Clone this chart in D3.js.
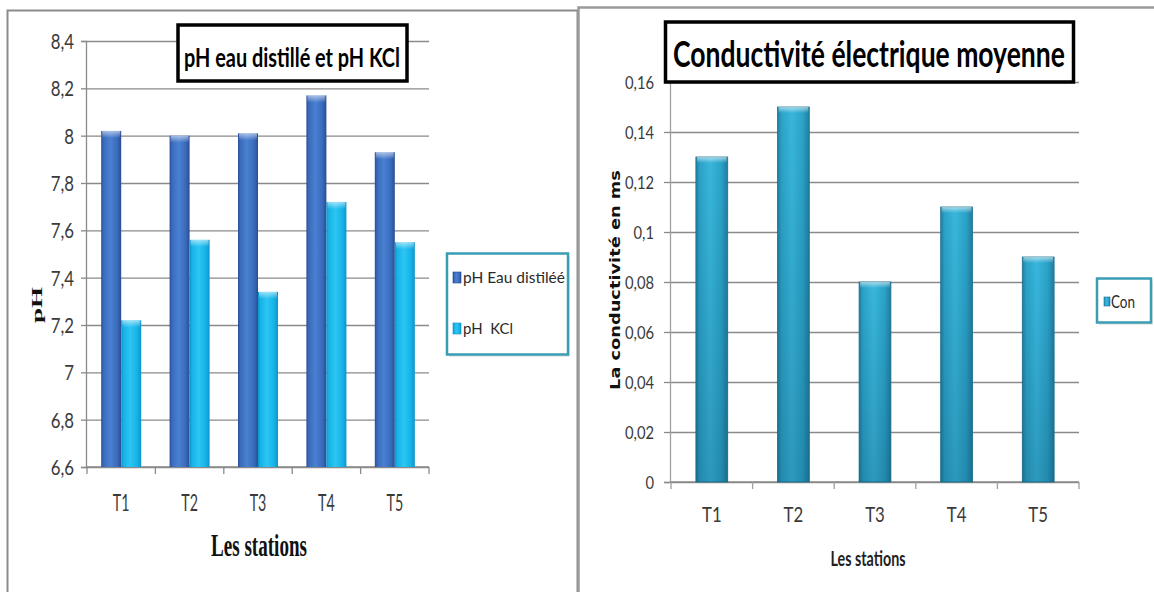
<!DOCTYPE html>
<html>
<head>
<meta charset="utf-8">
<script src="https://cdn.jsdelivr.net/npm/d3@7"></script>
<style>
  html, body { margin: 0; padding: 0; background: #fff; }
  svg { display: block; }
  text { white-space: pre; }
</style>
</head>
<body>
<svg id="chart" width="1154" height="592"></svg>
<script>
// Stations sampled
const stations = ["T1", "T2", "T3", "T4", "T5"];

// pH measured in distilled water and in KCl
const phSeries = ["pH Eau distiléé", "pH  KCl"];
const phEau = [8.02, 8.00, 8.01, 8.17, 7.93];
const phKcl = [7.22, 7.56, 7.34, 7.72, 7.55];
const phTicks = [6.6, 6.8, 7, 7.2, 7.4, 7.6, 7.8, 8, 8.2, 8.4];

// Mean electrical conductivity (mS)
const condSeries = ["Con"];
const conductivite = [0.13, 0.15, 0.08, 0.11, 0.09];
const condTicks = [0, 0.02, 0.04, 0.06, 0.08, 0.1, 0.12, 0.14, 0.16];

const fr = d3.formatLocale({ decimal: ",", thousands: " ", grouping: [3], currency: ["", " €"] });
const fmt = fr.format("~g");

const svg = d3.select("#chart");
const defs = svg.append("defs");

const SANS = "Lato, 'Open Sans', sans-serif";
const SERIF = "'Liberation Serif', 'DejaVu Serif', serif";
const GRID = "#8a8a8a";

// Horizontal cylinder-like shading for the bars
function hGradient(id, edge, mid, light) {
  const g = defs.append("linearGradient").attr("id", id)
    .attr("x1", 0).attr("x2", 1).attr("y1", 0).attr("y2", 0);
  [[0, edge], [0.12, mid], [0.45, light], [0.8, mid], [1, edge]].forEach(([o, c]) =>
    g.append("stop").attr("offset", o).attr("stop-color", c));
}
hGradient("gEau", "#284d94", "#3a6bbb", "#4a80d2");
hGradient("gKcl", "#0b95cc", "#17b2e6", "#2cc6f4");
hGradient("gCon", "#1f7ea0", "#2ba2c8", "#39b7dd");

// Light bevel at the top of each bar
const cap = defs.append("linearGradient").attr("id", "gCap")
  .attr("x1", 0).attr("x2", 0).attr("y1", 0).attr("y2", 1);
cap.append("stop").attr("offset", 0).attr("stop-color", "#ffffff").attr("stop-opacity", 0.55);
cap.append("stop").attr("offset", 1).attr("stop-color", "#ffffff").attr("stop-opacity", 0);

// Darkening towards the base of the conductivity bars
const shade = defs.append("linearGradient").attr("id", "gShade")
  .attr("x1", 0).attr("x2", 0).attr("y1", 0).attr("y2", 1);
shade.append("stop").attr("offset", 0).attr("stop-color", "#003048").attr("stop-opacity", 0);
shade.append("stop").attr("offset", 1).attr("stop-color", "#003048").attr("stop-opacity", 0.22);

// Text placed at (x, y), optionally rotated, scaled horizontally to a given width
function label(parent, { x, y, rotate = 0, width, anchor = "middle", family = SANS,
                         weight = 400, size, fill = "#111", text }) {
  const g = parent.append("g").attr("transform", `translate(${x},${y}) rotate(${rotate})`);
  const t = g.append("text").attr("text-anchor", anchor)
    .attr("font-family", family).attr("font-weight", weight)
    .attr("font-size", size).attr("fill", fill).text(text);
  const w = t.node().getComputedTextLength();
  if (width && w > 0) t.attr("transform", `scale(${width / w},1)`);
  return t;
}
// Narrow each axis label around its own anchor point
function squeeze(sel, k) {
  sel.each(function () {
    const t = d3.select(this);
    const x = +t.attr("x") || 0;
    t.attr("transform", `translate(${x},0) scale(${k},1)`).attr("x", 0);
  });
}

// Panel frames
svg.append("path").attr("d", "M7.5,592V10.5H577.5V592")
  .attr("fill", "none").attr("stroke", "#8c8c8c").attr("stroke-width", 2);
svg.append("path").attr("d", "M578.5,592V7.5H1154")
  .attr("fill", "none").attr("stroke", "#9a9a9a").attr("stroke-width", 2.5);

// ---------------- Left chart: pH ----------------
{
  const x0 = 87, x1 = 429, yTop = 41, yBot = 467;
  const g = svg.append("g");

  const y = d3.scaleLinear().domain([6.6, 8.4]).range([yBot, yTop]);
  const x = d3.scaleBand().domain(stations).range([x0, x1])
    .paddingInner(0.415).paddingOuter(0.2075);
  const xs = d3.scaleBand().domain(phSeries).range([0, x.bandwidth()]);

  // gridlines
  g.append("g").attr("transform", `translate(${x0 - 1},0)`)
    .call(d3.axisLeft(y).tickValues(phTicks).tickSize(-(x1 - x0 + 1)).tickFormat(""))
    .call(s => s.select(".domain").remove())
    .call(s => s.selectAll("line").attr("stroke", GRID).attr("stroke-width", 1.3));

  // y axis with labels
  const ya = g.append("g").attr("transform", `translate(${x0 - 1},0)`)
    .call(d3.axisLeft(y).tickValues(phTicks).tickSize(5).tickPadding(7).tickFormat(fmt));
  ya.select(".domain").attr("stroke", GRID).attr("stroke-width", 1.3);
  ya.selectAll("line").attr("stroke", GRID).attr("stroke-width", 1.3);
  ya.selectAll("text").attr("font-family", SANS).attr("font-size", 21)
    .attr("fill", "#3a3a3a").attr("dy", "0.36em").call(squeeze, 0.8);

  // x axis
  const xa = g.append("g").attr("transform", `translate(0,${yBot})`)
    .call(d3.axisBottom(x).tickSize(0).tickPadding(0));
  xa.select(".domain").remove();
  xa.selectAll("text").attr("font-family", SANS).attr("font-size", 23)
    .attr("fill", "#3a3a3a").attr("dy", null).attr("y", 44).call(squeeze, 0.62);
  g.append("line").attr("x1", x0 - 1).attr("x2", x1).attr("y1", yBot).attr("y2", yBot)
    .attr("stroke", GRID).attr("stroke-width", 1.3);
  g.selectAll(".xtick").data(d3.range(stations.length + 1)).join("line")
    .attr("x1", i => x0 + i * x.step()).attr("x2", i => x0 + i * x.step())
    .attr("y1", yBot).attr("y2", yBot + 7)
    .attr("stroke", GRID).attr("stroke-width", 1.3);

  // bars
  const rows = stations.map((s, i) => ({ s, vals: [phEau[i], phKcl[i]] }));
  const fills = ["url(#gEau)", "url(#gKcl)"];
  const groups = g.selectAll(".grp").data(rows).join("g")
    .attr("transform", d => `translate(${x(d.s)},0)`);
  const bars = groups.selectAll("g.bar").data(d => d.vals.map((v, k) => ({ v, k })))
    .join("g").attr("class", "bar");
  bars.append("rect")
    .attr("x", d => xs(phSeries[d.k])).attr("width", xs.bandwidth())
    .attr("y", d => y(d.v)).attr("height", d => yBot - y(d.v))
    .attr("fill", d => fills[d.k]);
  bars.append("rect")
    .attr("x", d => xs(phSeries[d.k]) + 1).attr("width", xs.bandwidth() - 2)
    .attr("y", d => y(d.v)).attr("height", 7)
    .attr("fill", "url(#gCap)");

  // axis titles
  label(g, { x: 42, y: 305, rotate: -90, width: 36, family: SERIF, weight: 700, size: 14, text: "pH" });
  label(g, { x: 259, y: 556, width: 96, family: SERIF, weight: 700, size: 31, text: "Les stations" });

  // title box
  g.append("rect").attr("x", 178).attr("y", 25).attr("width", 229).attr("height", 56)
    .attr("fill", "#fff").attr("stroke", "#000").attr("stroke-width", 3.5);
  label(g, { x: 292, y: 67, width: 216, weight: 700, size: 26, fill: "#000",
             text: "pH eau distillé et pH KCl" });

  // legend
  const lg = g.append("g");
  lg.append("rect").attr("x", 449).attr("y", 256).attr("width", 121).attr("height", 101)
    .attr("fill", "#d8d8d8").attr("opacity", 0.6);
  lg.append("rect").attr("x", 447).attr("y", 253.5).attr("width", 121).attr("height", 101)
    .attr("fill", "#fff").attr("stroke", "#3a9db3").attr("stroke-width", 2.5);
  const ly = [283, 334];
  const lw = [102, 50];
  phSeries.forEach((name, k) => {
    lg.append("rect").attr("x", 453).attr("y", ly[k] - 11).attr("width", 8).attr("height", 11)
      .attr("fill", fills[k]).attr("stroke", k ? "#0b8fc4" : "#25478a").attr("stroke-width", 0.6);
    label(lg, { x: 463, y: ly[k], width: lw[k], anchor: "start", size: 16, fill: "#2a2a2a", text: name });
  });
}

// ---------------- Right chart: conductivity ----------------
{
  const x0 = 671, x1 = 1079, yTop = 82, yBot = 482;
  const g = svg.append("g");

  const y = d3.scaleLinear().domain([0, 0.16]).range([yBot, yTop]);
  const x = d3.scaleBand().domain(stations).range([x0, x1])
    .paddingInner(0.61).paddingOuter(0.305);

  g.append("g").attr("transform", `translate(${x0 - 1},0)`)
    .call(d3.axisLeft(y).tickValues(condTicks).tickSize(-(x1 - x0 + 1)).tickFormat(""))
    .call(s => s.select(".domain").remove())
    .call(s => s.selectAll("line").attr("stroke", GRID).attr("stroke-width", 1.3));

  const ya = g.append("g").attr("transform", `translate(${x0 - 1},0)`)
    .call(d3.axisLeft(y).tickValues(condTicks).tickSize(6).tickPadding(10).tickFormat(fmt));
  ya.select(".domain").attr("stroke", "#a0a0a0").attr("stroke-width", 1.3);
  ya.selectAll("line").attr("stroke", GRID).attr("stroke-width", 1.3);
  ya.selectAll("text").attr("font-family", SANS).attr("font-size", 18)
    .attr("fill", "#3a3a3a").attr("dy", "0.36em").call(squeeze, 0.82);

  const xa = g.append("g").attr("transform", `translate(0,${yBot})`)
    .call(d3.axisBottom(x).tickSize(0).tickPadding(0));
  xa.select(".domain").remove();
  xa.selectAll("text").attr("font-family", SANS).attr("font-size", 21)
    .attr("fill", "#3a3a3a").attr("dy", null).attr("y", 40).call(squeeze, 0.8);
  g.append("line").attr("x1", x0 - 1).attr("x2", x1).attr("y1", yBot).attr("y2", yBot)
    .attr("stroke", GRID).attr("stroke-width", 1.3);
  g.selectAll(".xtick").data(d3.range(stations.length + 1)).join("line")
    .attr("x1", i => x0 + i * x.step()).attr("x2", i => x0 + i * x.step())
    .attr("y1", yBot).attr("y2", yBot + 7)
    .attr("stroke", "#a0a0a0").attr("stroke-width", 1.3);

  const data = stations.map((s, i) => ({ s, v: conductivite[i] }));
  const bars = g.selectAll("g.bar").data(data).join("g").attr("class", "bar");
  bars.append("rect")
    .attr("x", d => x(d.s)).attr("width", x.bandwidth())
    .attr("y", d => y(d.v)).attr("height", d => yBot - y(d.v))
    .attr("fill", "url(#gCon)").attr("stroke", "#1d7090").attr("stroke-width", 0.8);
  bars.append("rect")
    .attr("x", d => x(d.s)).attr("width", x.bandwidth())
    .attr("y", d => y(d.v)).attr("height", d => yBot - y(d.v))
    .attr("fill", "url(#gShade)");
  bars.append("rect")
    .attr("x", d => x(d.s) + 1).attr("width", x.bandwidth() - 2)
    .attr("y", d => y(d.v)).attr("height", 6)
    .attr("fill", "url(#gCap)");

  label(g, { x: 620, y: 280, rotate: -90, width: 220, family: "'DejaVu Sans', sans-serif",
             weight: 700, size: 13.5, text: "La conductivité en ms" });
  label(g, { x: 868, y: 566, width: 75, weight: 700, size: 20, fill: "#222", text: "Les stations" });

  g.append("rect").attr("x", 665.5).attr("y", 22).attr("width", 408).attr("height", 60)
    .attr("fill", "#fff").attr("stroke", "#000").attr("stroke-width", 3.5);
  label(g, { x: 869, y: 67, width: 392, weight: 700, size: 37, fill: "#000",
             text: "Conductivité électrique moyenne" });

  const lg = g.append("g");
  lg.append("rect").attr("x", 1099).attr("y", 281).attr("width", 54).attr("height", 44)
    .attr("fill", "#d8d8d8").attr("opacity", 0.6);
  lg.append("rect").attr("x", 1097).attr("y", 278.5).attr("width", 54).attr("height", 44)
    .attr("fill", "#fff").attr("stroke", "#3a9db3").attr("stroke-width", 2.5);
  lg.append("rect").attr("x", 1104).attr("y", 297).attr("width", 6).attr("height", 9)
    .attr("fill", "url(#gCon)").attr("stroke", "#1d7090").attr("stroke-width", 0.6);
  label(lg, { x: 1111, y: 308, width: 24, anchor: "start", size: 18, fill: "#2a2a2a",
              text: condSeries[0] });
}
</script>
</body>
</html>
